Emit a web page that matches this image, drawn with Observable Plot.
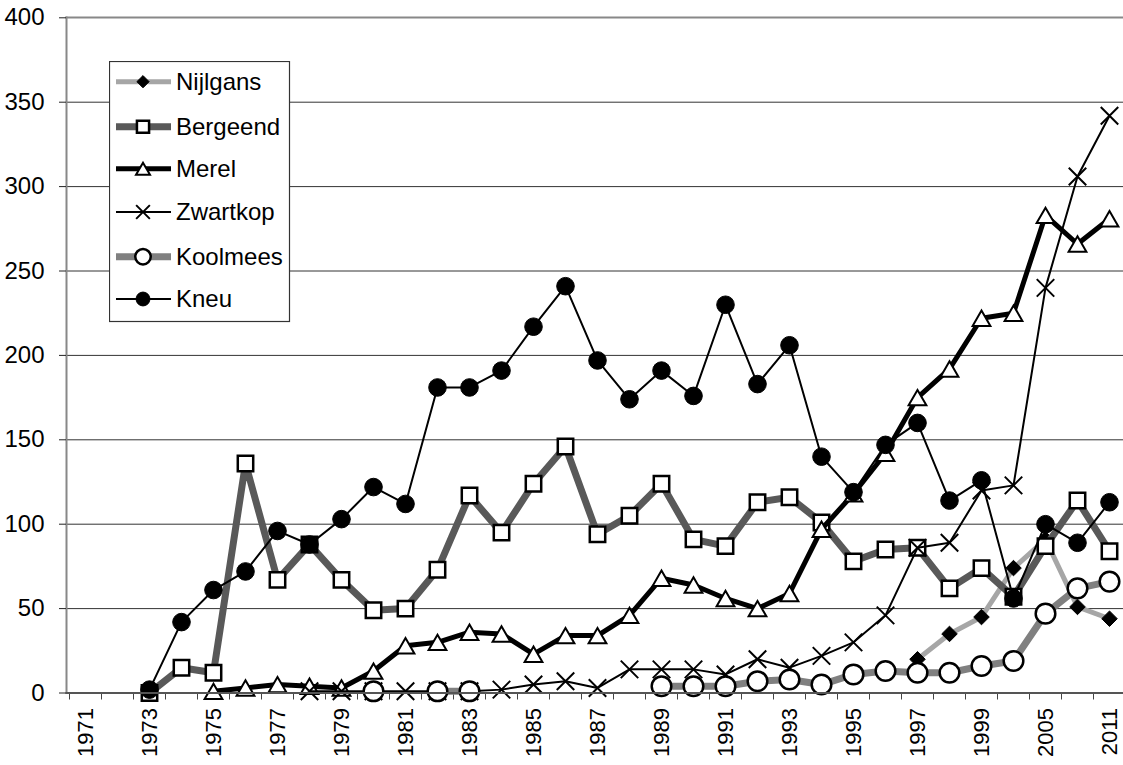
<!DOCTYPE html>
<html>
<head>
<meta charset="utf-8">
<script src="https://cdn.jsdelivr.net/npm/d3@7"></script>
<script src="https://cdn.jsdelivr.net/npm/@observablehq/plot@0.6"></script>
<style>
  body { margin: 0; background: #fff; font-family: "Liberation Sans", Arial, sans-serif; }
  #wrap { position: relative; width: 1123px; height: 765px; overflow: hidden; background: #fff; }
  #legend { position: absolute; left: 109px; top: 61px; }
  #wrap svg text { font-family: "Liberation Sans", Arial, sans-serif; }
</style>
</head>
<body>
<div id="wrap"></div>
<script>
// Categories (x axis)
const years = ["1971","1972","1973","1974","1975","1976","1977","1978","1979","1980",
  "1981","1982","1983","1984","1985","1986","1987","1988","1989","1990",
  "1991","1992","1993","1994","1995","1996","1997","1998","1999","2000",
  "2005","2008","2011"];
// Labelled x ticks
const yearLabels = years.filter((d, i) => i % 2 === 0);
// y ticks
const yTicks = [0, 50, 100, 150, 200, 250, 300, 350, 400];

// Series values (null = no data)
const nijlgans = [null,null,null,null,null,null,null,null,null,null,
  null,null,null,null,null,null,null,null,null,null,
  null,null,null,null,null,null,20,35,45,74,
  91,51,44];
const bergeend = [null,null,0,15,12,136,67,88,67,49,
  50,73,117,95,124,146,94,105,124,91,
  87,113,116,101,78,85,86,62,74,57,
  87,114,84];
const merel = [null,null,null,null,1,3,5,4,3,13,
  28,30,36,35,23,34,34,46,68,64,
  56,50,59,97,118,142,175,192,222,225,
  283,266,281];
const zwartkop = [null,null,null,null,null,null,null,1,1,1,
  1,1,1,2,5,7,3,14,14,14,
  11,20,15,22,30,46,86,89,120,123,
  240,306,342];
const koolmees = [null,null,null,null,null,null,null,null,null,1,
  null,1,1,null,null,null,null,null,4,4,
  4,7,8,5,11,13,12,12,16,19,
  47,62,66];
const kneu = [null,null,2,42,61,72,96,88,103,122,
  112,181,181,191,217,241,197,174,191,176,
  230,183,206,140,119,147,160,114,126,56,
  100,89,113];

const series = [
  {name: "Nijlgans", values: nijlgans, stroke: "#a6a6a6", sw: 5, symbol: "diamond2", r: 7, fill: "black", mstroke: "black", msw: 1, dy: 0},
  {name: "Bergeend", values: bergeend, stroke: "#595959", sw: 7, symbol: "square", r: 8.7, fill: "white", mstroke: "black", msw: 2.5, dy: 0},
  {name: "Merel", values: merel, stroke: "black", sw: 5, symbol: "triangle", r: 6.6, fill: "white", mstroke: "black", msw: 2, dy: 2.6},
  {name: "Zwartkop", values: zwartkop, stroke: "black", sw: 2, symbol: "times", r: 8, fill: "none", mstroke: "black", msw: 2, dy: 0},
  {name: "Koolmees", values: koolmees, stroke: "#808080", sw: 7, symbol: "circle", r: 9.8, fill: "white", mstroke: "black", msw: 2.5, dy: 0},
  {name: "Kneu", values: kneu, stroke: "black", sw: 2, symbol: "circle", r: 8.8, fill: "black", mstroke: "black", msw: 1, dy: 0}
];

const rows = (vals) => years.map((y, i) => ({year: y, value: vals[i]}));

const seriesMarks = series.flatMap(s => {
  const data = rows(s.values);
  return [
    Plot.line(data, {x: "year", y: "value", stroke: s.stroke, strokeWidth: s.sw, strokeLinejoin: "round", strokeLinecap: "butt"}),
    Plot.dot(data.filter(d => d.value != null), {x: "year", y: "value", symbol: s.symbol, r: s.r, fill: s.fill, stroke: s.mstroke, strokeWidth: s.msw, dy: s.dy})
  ];
});

const FS = 24;
const chart = Plot.plot({
  width: 1123,
  height: 765,
  marginTop: 17,
  marginBottom: 72.5,
  marginLeft: 66,
  marginRight: 0,
  style: {fontFamily: "'Liberation Sans', Arial, sans-serif", fontSize: FS + "px", background: "white", color: "black", overflow: "hidden"},
  x: {type: "point", domain: years, range: [82, 1111], padding: 0, label: null},
  y: {domain: [0, 400], range: [692.5, 17.3], label: null},
  marks: [
    Plot.gridY(yTicks.slice(1, -1), {stroke: "#333", strokeOpacity: 1, strokeWidth: 1}),
    Plot.frame({anchor: "top", stroke: "#888", strokeWidth: 2}),
    Plot.frame({anchor: "left", stroke: "#888", strokeWidth: 2}),
    Plot.axisY({ticks: yTicks, tickSize: 7, tickPadding: 15, fontSize: FS, stroke: "#222", label: null}),
    // boundary tick marks between categories
    Plot.axisX({ticks: years, tickSize: 7, dx: 16, tickFormat: () => "", stroke: "#444", label: null}),
    Plot.axisX({ticks: [years[0]], tickSize: 7, dx: -16, tickFormat: () => "", stroke: "#444", label: null}),
    Plot.axisX({ticks: yearLabels, tickSize: 0, tickPadding: 15, tickRotate: -90, fontSize: 22, label: null}),
    ...seriesMarks,
    Plot.frame({anchor: "bottom", stroke: "#555", strokeWidth: 2})
  ]
});
document.getElementById("wrap").appendChild(chart);

// Legend (inline box inside plot area)
const lw = 180, lh = 260, rowY = [20.7, 65.7, 107.7, 151, 195.7, 238];
const leg = d3.select("#wrap").append("svg")
  .attr("id", "legend").attr("width", lw + 2).attr("height", lh + 2);
leg.append("rect").attr("x", 0.5).attr("y", 0.5).attr("width", lw).attr("height", lh)
  .attr("fill", "white").attr("stroke", "#333").attr("stroke-width", 1.2);
const symMap = {diamond2: d3.symbolDiamond2, square: d3.symbolSquare, triangle: d3.symbolTriangle, times: d3.symbolTimes, circle: d3.symbolCircle};
series.forEach((s, i) => {
  const g = leg.append("g").attr("transform", `translate(0,${rowY[i]})`);
  g.append("line").attr("x1", 7).attr("x2", 62).attr("y1", 0).attr("y2", 0)
    .attr("stroke", s.stroke).attr("stroke-width", s.sw);
  g.append("path").attr("d", d3.symbol(symMap[s.symbol], Math.PI * s.r * s.r * 0.62)())
    .attr("transform", `translate(34,${s.dy * 0.8})`)
    .attr("fill", s.fill).attr("stroke", s.mstroke).attr("stroke-width", s.msw);
  g.append("text").attr("x", 67).attr("y", 0).attr("dy", "0.35em")
    .attr("font-size", FS)
    .attr("fill", "black").text(s.name);
});
</script>
</body>
</html>
